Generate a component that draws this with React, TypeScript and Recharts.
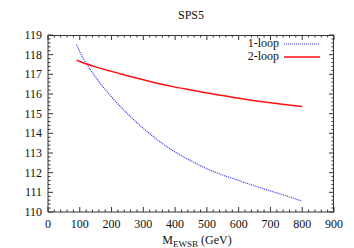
import { LineChart, Line, XAxis, YAxis, Legend, Label } from 'recharts'

const mass = [90, 100, 150, 200, 250, 300, 350, 400, 450, 500, 550, 600, 650, 700, 750, 800]
const oneLoop = [118.5, 118.15, 116.85, 115.85, 115.0, 114.25, 113.6, 113.05, 112.6, 112.2, 111.88, 111.6, 111.33, 111.07, 110.82, 110.55]
const twoLoop = [117.72, 117.65, 117.38, 117.15, 116.93, 116.72, 116.52, 116.35, 116.2, 116.05, 115.92, 115.78, 115.66, 115.55, 115.45, 115.36]

const xMajor = [0, 100, 200, 300, 400, 500, 600, 700, 800, 900]
const yMajor = [110, 111, 112, 113, 114, 115, 116, 117, 118, 119]

const series = [
  { key: 'oneLoop', name: '1-loop', color: '#3030ff', width: 1.2, dash: '1 1' },
  { key: 'twoLoop', name: '2-loop', color: '#ff1010', width: 1.5, dash: undefined },
]

const data = mass.map((m, i) => ({ m, oneLoop: oneLoop[i], twoLoop: twoLoop[i] }))

// chart box: plot area sits at 48..334 x 35..212
const W = 354, H = 248
const M = { top: 35, right: 20, left: 0, bottom: 0 }
const Y_W = 48, X_H = 36
const PLOT_W = W - M.left - M.right - Y_W
const PLOT_H = H - M.top - M.bottom - X_H

// 4 minor ticks between each pair of majors, like gnuplot
function withMinor(major: number[]) {
  const out: number[] = []
  for (let i = 0; i < major.length - 1; i++) {
    const step = (major[i + 1] - major[i]) / 5
    for (let k = 0; k < 5; k++) out.push(+(major[i] + k * step).toFixed(4))
  }
  out.push(major[major.length - 1])
  return out
}
const xTicks = withMinor(xMajor)
const yTicks = withMinor(yMajor)

const isMajor = (v: number, list: number[]) => list.some(m => Math.abs(m - v) < 1e-6)
const AXIS = '#333'
const FONT = '"Liberation Serif", "Times New Roman", serif'
const txt = { fontFamily: FONT, fontSize: 12, fill: '#111' }

// gnuplot style: inward ticks, mirrored on the opposite side
function XTick({ x, y, payload }: any) {
  const v = payload.value
  const major = isMajor(v, xMajor)
  const len = major ? 5 : 2.5
  const top = y - PLOT_H
  return (
    <g>
      <line x1={x} y1={y} x2={x} y2={y - len} stroke={AXIS} />
      <line x1={x} y1={top} x2={x} y2={top + len} stroke={AXIS} />
      {major && <text x={x} y={y + 16} textAnchor="middle" style={txt}>{v}</text>}
    </g>
  )
}

function YTick({ x, y, payload }: any) {
  const v = payload.value
  const major = isMajor(v, yMajor)
  const len = major ? 5 : 2.5
  const right = x + PLOT_W
  return (
    <g>
      <line x1={x} y1={y} x2={x + len} y2={y} stroke={AXIS} />
      <line x1={right} y1={y} x2={right - len} y2={y} stroke={AXIS} />
      {major && <text x={x - 6} y={y + 4} textAnchor="end" style={txt}>{v}</text>}
    </g>
  )
}

function XTitle({ viewBox }: any) {
  const cx = viewBox.x + viewBox.width / 2 + 6
  return (
    <text x={cx} y={viewBox.y + 32} textAnchor="middle" style={txt}>
      M<tspan dy={3} style={{ fontSize: 9 }}>EWSB</tspan><tspan dy={-3}> (GeV)</tspan>
    </text>
  )
}

function LegendBox() {
  return (
    <div style={{ fontFamily: FONT, fontSize: 12, color: '#111' }}>
      {series.map(s => (
        <div key={s.key} style={{ display: 'flex', justifyContent: 'flex-end', alignItems: 'center', height: 13 }}>
          <span style={{ marginRight: 5 }}>{s.name}</span>
          <svg width={36} height={6}>
            <line x1={0} y1={3} x2={36} y2={3} stroke={s.color} strokeWidth={s.width} strokeDasharray={s.dash} />
          </svg>
        </div>
      ))}
    </div>
  )
}

export default function App() {
  return (
    <div style={{ position: 'absolute', left: 0, top: 0, width: W, height: H, background: '#fff', fontFamily: FONT }}>
      <div style={{ position: 'absolute', top: 8, left: Y_W, width: PLOT_W, textAlign: 'center', fontSize: 12, color: '#111' }}>
        SPS5
      </div>
      <LineChart width={W} height={H} data={data} margin={M}>
        <XAxis dataKey="m" type="number" domain={[0, 900]} ticks={xTicks} interval={0}
          height={X_H} tickSize={0} tickMargin={0} tickLine={false} stroke={AXIS}
          tick={<XTick />}>
          <Label content={<XTitle />} />
        </XAxis>
        <YAxis type="number" domain={[110, 119]} ticks={yTicks} interval={0}
          width={Y_W} tickSize={0} tickMargin={0} tickLine={false} stroke={AXIS}
          tick={<YTick />} />
        <Legend layout="vertical" align="center" verticalAlign="middle" content={<LegendBox />}
          wrapperStyle={{ top: 37, left: 220, width: 100, bottom: 'auto', right: 'auto' }} />
        {series.map(s => (
          <Line key={s.key} dataKey={s.key} name={s.name} type="monotone" stroke={s.color}
            strokeWidth={s.width} strokeDasharray={s.dash} dot={false} isAnimationActive={false} />
        ))}
      </LineChart>
      {/* plot frame on top and right, gnuplot draws a full border */}
      <div style={{ position: 'absolute', left: Y_W, top: M.top, width: PLOT_W, height: PLOT_H,
        boxSizing: 'border-box', borderTop: `1px solid ${AXIS}`, borderRight: `1px solid ${AXIS}`, pointerEvents: 'none' }} />
    </div>
  )
}
